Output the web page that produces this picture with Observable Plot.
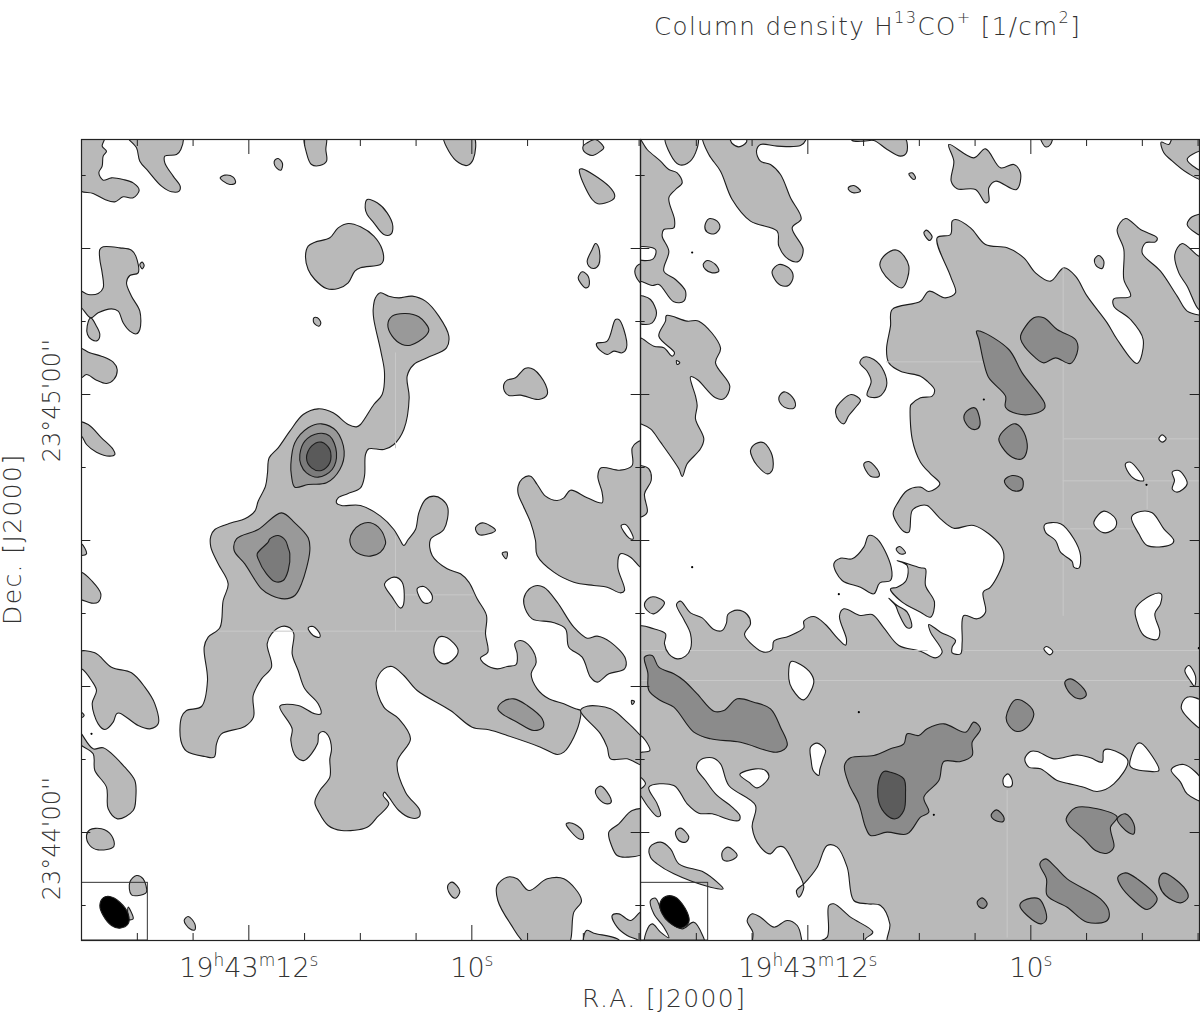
<!DOCTYPE html>
<html><head><meta charset="utf-8">
<script src="https://cdn.jsdelivr.net/npm/d3@7"></script>
<script src="https://cdn.jsdelivr.net/npm/@observablehq/plot@0.6"></script>
<style>
html,body{margin:0;padding:0;background:#fff;width:1200px;height:1017px;overflow:hidden}
#wrap{position:relative;width:1200px;height:1017px}
.t{position:absolute;font-family:"DejaVu Sans";font-weight:200;color:#333;white-space:pre;line-height:1;letter-spacing:1.4px}
.t sup{font-size:.66em;line-height:0;position:relative;top:-.15em;vertical-align:super}
svg text{font-family:"DejaVu Sans";font-weight:200;fill:#333}
</style></head><body><div id="wrap"><div id="chart"></div>
<div class="t" id="title" style="left:654px;top:15px;font-size:24.5px">Column density H<sup>13</sup>CO<sup>+</sup> [1/cm<sup>2</sup>]</div>
<div class="t" id="xl" style="left:582px;top:986px;font-size:25px">R.A. [J2000]</div>
<div class="t" id="yl" style="left:0;top:625px;font-size:25px;transform-origin:0 0;transform:rotate(-90deg)">Dec. [J2000]</div>
</div>
<script>
const raTicks=[13,12.5,12,11.5,11,10.5,10,9.5,9,8.5];
const raMajor=[12,10];
const raLabels=["19h43m12s","10s"];
const decTicks=[30,20,10,0,-10,-20,-30,-40,-50,-60,-70];
const decMajor=[20,0,-20,-40,-60];
const decLabelValues=[0,-60];
const decLabels=["23°45'00''","23°44'00''"];

const leftLevel1=[
[-10,-10,70,-10,62,20,75,35,65,50,62,80,52,100,65,122,90,115,125,120,155,130,173,152,155,175,125,172,100,187,70,180,35,162,-10,150],
[138,-10,165,25,175,65,200,95,240,140,270,157,293,155,296,140,275,110,250,70,250,50,285,45,298,30,302,-10],
[416,115,430,107,455,113,462,130,445,135,425,125],
[580,62,590,57,603,72,598,92,585,85,578,72],
[670,-10,675,40,690,75,715,78,735,65,733,30,733,-10],
[1087,-10,1102,35,1132,70,1157,78,1175,60,1176,-10],
[1505,20,1517,10,1542,0,1567,25,1557,35,1532,48,1507,35],
[1494,90,1502,88,1582,140,1600,170,1592,182,1549,193,1532,180,1497,110],
[851,205,857,180,887,190,917,220,934,260,927,285,907,285,877,250,857,225],
[672,350,680,320,700,308,745,295,770,265,800,252,837,262,877,290,902,330,905,365,897,375,837,385,820,395,800,430,770,447,735,447,700,420,680,390],
[175,375,182,368,188,378,182,388],
[-10,452,20,465,50,462,65,445,62,400,55,360,55,330,65,322,115,325,150,332,163,350,170,400,145,408,135,430,150,470,175,515,175,570,165,583,145,575,125,550,110,515,90,508,50,520,28,535,0,505,-10,500],
[28,535,17,560,18,585,30,600,48,603,55,585,45,560],
[-10,625,25,640,60,650,95,668,107,690,97,720,75,732,45,722,15,705,0,715,-10,715],
[-10,848,20,855,60,895,95,930,100,945,85,950,45,938,15,915,0,890,-10,890],
[697,535,708,535,718,550,712,560,697,550],
[388,1190,400,1170,450,1150,490,1138,520,1115,530,1085,552,1040,558,1000,563,955,590,925,625,875,665,825,710,808,755,820,800,855,825,862,837,855,877,795,902,765,909,700,899,640,877,540,875,510,882,475,897,460,922,470,952,475,992,470,1032,485,1072,530,1102,590,1095,625,1037,655,997,675,977,710,983,775,967,870,937,915,907,930,862,928,852,945,849,1010,837,1045,800,1062,770,1075,765,1090,780,1098,837,1098,897,1130,937,1170,955,1200,967,1218,980,1200,1002,1170,1012,1120,1032,1080,1057,1070,1082,1080,1099,1105,1087,1170,1047,1200,1052,1248,1097,1288,1137,1303,1162,1328,1187,1378,1215,1428,1212,1483,1219,1538,1197,1555,1212,1575,1247,1588,1277,1581,1304,1575,1307,1543,1300,1513,1317,1503,1347,1523,1364,1568,1349,1603,1367,1648,1402,1678,1447,1693,1482,1708,1497,1713,1497,1733,1477,1793,1447,1838,1427,1845,1377,1823,1277,1788,1222,1771,1172,1763,1107,1713,1007,1653,967,1608,932,1581,907,1588,884,1628,907,1703,952,1738,987,1798,947,1868,972,1958,1015,2013,1012,2033,987,2035,952,2013,922,1973,909,1958,905,1968,922,1993,887,2033,857,2063,780,2073,740,2058,712,2018,700,1988,715,1953,745,1913,745,1858,750,1828,740,1788,725,1776,712,1783,708,1813,668,1863,645,1853,628,1803,632,1768,595,1700,650,1698,700,1723,718,1723,710,1693,670,1648,650,1593,632,1543,637,1483,625,1465,600,1461,570,1483,557,1513,570,1583,540,1618,515,1668,516,1733,490,1761,420,1783,405,1813,398,1853,370,1851,315,1835,298,1803,300,1733,315,1713,360,1701,378,1623,368,1523,380,1493,415,1465,425,1383,440,1333,410,1273,388,1223],
[1310,1040,1322,1018,1347,1010,1367,1035,1392,1070,1427,1083,1447,1075,1467,1052,1517,1075,1562,1090,1562,1060,1549,1010,1559,985,1617,992,1652,978,1652,925,1667,908,1690,905,1690,1283,1677,1283,1647,1253,1617,1243,1609,1283,1629,1353,1617,1360,1577,1343,1537,1338,1477,1328,1417,1298,1367,1248,1362,1203,1347,1148,1327,1103,1310,1063],
[1660,395,1672,375,1690,375,1690,435,1672,425],
[1517,365,1532,330,1542,312,1552,325,1552,375,1537,387,1522,380],
[1490,415,1502,397,1520,410,1522,440,1512,445,1497,430],
[1545,612,1577,605,1602,540,1612,540,1627,570,1635,625,1622,640,1597,635,1577,645,1549,625],
[1267,735,1277,722,1302,715,1332,686,1357,690,1392,735,1397,765,1372,780,1317,767,1282,768,1269,755],
[1182,1165,1202,1150,1242,1172,1222,1183,1192,1185],
[1262,1241,1277,1238,1274,1258],
[1327,1393,1332,1363,1357,1340,1387,1343,1427,1388,1477,1463,1517,1496,1547,1490,1587,1508,1632,1558,1629,1588,1582,1603,1547,1628,1527,1613,1502,1553,1462,1523,1452,1468,1412,1448,1352,1438],
[1650,1683,1659,1686,1652,1695],
[1497,1713,1517,1700,1587,1708,1637,1748,1677,1788,1690,1803,1690,1878,1637,1858,1587,1858,1577,1823,1557,1783],
[1542,1953,1557,1940,1577,1958,1589,1988,1577,1993,1552,1978],
[1454,2053,1472,2051,1502,2073,1505,2098,1492,2098],
[1582,2078,1612,2053,1652,2013,1690,2013,1690,2138,1637,2153,1607,2148,1590,2118],
[1099,2238,1112,2228,1135,2255,1122,2276,1105,2263],
[1247,2238,1277,2213,1307,2218,1342,2253,1397,2218,1447,2218,1500,2283,1477,2318,1457,2420,1342,2420,1287,2353,1249,2283],
[1592,2328,1612,2323,1647,2343,1677,2318,1690,2318,1690,2420,1672,2403,1637,2388,1607,2363],
[1509,2420,1515,2373,1537,2381,1607,2398,1627,2420],
[-10,1213,0,1213,15,1243,0,1248,-10,1245],
[-10,1298,0,1298,30,1323,58,1363,50,1388,30,1391,0,1381,-10,1381],
[-10,1538,40,1540,90,1583,150,1600,190,1643,220,1693,230,1753,205,1768,170,1758,115,1721,105,1723,95,1748,70,1770,50,1753,32,1693,45,1653,30,1623,0,1588,-10,1588],
[-10,1713,0,1718,8,1728,0,1735,-10,1735],
[-10,1770,0,1783,35,1828,65,1825,130,1883,160,1923,163,1973,155,2013,108,2038,80,2008,75,1943,40,1893,35,1843,0,1818,-10,1808],
[15,2088,25,2071,60,2068,90,2088,97,2121,50,2131,25,2118],
[145,2228,165,2208,185,2218,195,2258,185,2265,150,2266],
[308,2343,320,2331,340,2353,340,2371,325,2368],
[140,2303,155,2338,142,2340]
];
const leftSeams=[[942,640,942,925],[942,1190,942,1475],[410,1475,1207,1475],[967,1366,1175,1366]];
const leftHoles=[
[680,1465,695,1461,715,1483,715,1493,695,1488],
[909,1333,937,1313,962,1328,965,1398,957,1406,932,1373],
[1007,1348,1027,1341,1052,1368,1047,1388,1027,1390],
[1057,1528,1072,1493,1097,1495,1130,1533,1112,1563,1087,1573,1065,1558],
[1619,1158,1632,1155,1650,1180,1655,1198,1642,1195]
];
const leftLevel2=[
[628,975,640,910,680,865,720,853,765,875,788,935,775,990,735,1030,680,1035,640,1043,630,1010],
[465,1198,530,1170,600,1120,640,1150,680,1195,685,1233,660,1333,640,1368,610,1378,570,1368,540,1348,490,1273,458,1233],
[805,1200,815,1175,837,1155,867,1150,897,1170,912,1205,912,1213,897,1238,867,1250,837,1245,815,1230],
[919,555,932,530,972,522,1012,532,1042,570,1032,590,987,617,962,615,932,590],
[1249,1708,1262,1688,1297,1678,1337,1698,1382,1738,1385,1763,1357,1773,1307,1748,1262,1723]
];
const leftLevel3=[
[655,945,670,905,710,882,745,890,765,940,752,990,710,1013,675,1000,658,975],
[565,1198,590,1188,612,1203,620,1225,625,1243,620,1293,605,1323,580,1326,555,1303,530,1258,527,1243,560,1208]
];
const leftLevel4=[[675,955,690,920,720,908,745,930,745,970,720,993,690,985]];
const leftBeam=[55,2298,65,2275,85,2271,115,2288,140,2323,140,2353,115,2366,90,2358,65,2328];
const leftDots=[[30,1783]];
const leftBox=[0,199,2230,2403];

const rightMain=[-10,1463,40,1468,75,1483,72,1513,85,1543,110,1558,135,1550,150,1528,150,1483,130,1440,108,1395,120,1385,150,1420,185,1435,220,1470,245,1473,258,1450,262,1425,290,1412,320,1425,330,1453,312,1485,340,1520,370,1538,395,1530,400,1505,445,1490,490,1465,490,1445,520,1431,555,1455,590,1495,615,1517,618,1500,597,1430,610,1408,660,1428,695,1425,730,1465,775,1518,840,1535,885,1555,905,1538,870,1478,865,1455,900,1478,945,1503,935,1523,935,1540,960,1543,965,1508,970,1428,1010,1438,1035,1418,1028,1358,1050,1343,1090,1258,1080,1218,1000,1158,940,1166,900,1138,860,1098,840,1098,815,1113,805,1178,790,1176,758,1123,770,1093,800,1053,840,1043,865,1056,898,1033,870,1003,840,968,815,898,810,798,812,795,840,775,875,770,882,750,860,725,840,710,780,695,745,670,738,630,750,560,755,510,840,485,865,455,915,475,945,460,930,410,890,295,930,285,935,245,945,240,990,265,1035,315,1100,325,1150,355,1185,400,1230,425,1270,385,1305,410,1340,470,1400,550,1430,600,1490,672,1508,600,1470,540,1420,500,1420,478,1470,470,1450,420,1450,330,1430,270,1455,237,1500,270,1550,295,1545,307,1515,310,1505,340,1560,395,1610,470,1640,515,1680,527,1690,527,1690,2420,745,2420,748,2353,720,2298,680,2293,640,2283,620,2183,590,2123,560,2118,530,2183,490,2233,468,2253,475,2273,490,2243,465,2183,430,2123,410,2123,390,2143,360,2123,335,2063,345,1998,265,1938,240,1873,215,1855,180,1861,168,1885,195,1923,225,1963,275,2003,298,2028,295,2043,265,2040,215,2023,175,2021,140,1993,100,1938,25,1943,50,1993,60,2028,50,2031,20,1998,0,1968,-10,1960];
const rightSeams=[[1268,385,1268,1428],[1100,1953,1100,2393],[1520,1038,1520,1108],[0,667,225,667],[738,667,1050,667],[150,1533,350,1533],[400,1533,860,1533],[972,1533,1690,1533],[0,1533,72,1533],[0,1623,1670,1623],[1270,898,1690,898],[1268,1024,1690,1024],[1290,1168,1480,1168]];
const rightHoles=[
[445,1618,452,1566,480,1575,512,1603,520,1628,490,1681,455,1648],
[510,1823,530,1811,555,1833,548,1858,538,1890,535,1908,518,1893,512,1863],
[298,1905,345,1888,375,1893,385,1913,350,1945,325,1928],
[-10,1788,0,1788,15,1803,28,1833,5,1838,-10,1838],
[-10,1913,0,1913,15,1933,0,1948,-10,1948],
[1088,1918,1102,1903,1115,1923,1112,1941,1092,1940],
[1153,1858,1170,1836,1190,1836,1240,1858,1310,1846,1350,1855,1385,1868,1390,1833,1410,1830,1462,1863,1420,1933,1370,1956,1330,1943,1280,1931,1250,1923,1200,1888,1165,1883],
[1468,1878,1490,1813,1502,1811,1555,1893,1520,1895,1480,1888],
[1592,1891,1630,1875,1690,1930,1690,1985,1640,1963,1620,1928],
[1622,1703,1640,1673,1690,1690,1690,1770,1640,1733],
[1633,1593,1645,1578,1665,1610,1662,1640,1650,1625],
[1555,898,1565,886,1577,898,1565,908],
[1455,973,1470,968,1510,1023,1485,1020,1460,993],
[1595,998,1615,993,1640,1033,1610,1058,1595,1048,1602,1023],
[1360,1148,1390,1115,1425,1138,1425,1163,1395,1180,1370,1168],
[1473,1133,1500,1116,1535,1120,1570,1168,1600,1203,1590,1216,1520,1218,1495,1183],
[1213,1155,1260,1153,1300,1198,1320,1248,1315,1286,1300,1283,1295,1266,1260,1238,1245,1203,1215,1178],
[1485,1408,1530,1368,1562,1363,1560,1393,1543,1423,1558,1478,1550,1500,1510,1488,1490,1448],
[1210,1528,1218,1521,1237,1536,1228,1546]
];
const rightLevel1=[
[-10,-10,20,30,60,65,85,90,110,100,125,130,105,150,85,175,102,240,100,265,70,270,65,290,85,335,70,395,105,420,135,455,130,485,100,487,55,435,35,438,0,425,-10,425],
[-10,470,10,470,30,480,48,520,35,550,15,555,-10,548],
[75,-10,90,45,115,75,140,72,165,40,170,-10],
[187,-10,205,45,240,95,275,180,330,245,410,275,415,320,445,360,475,365,488,330,455,265,482,238,450,175,420,105,390,75,360,65,348,35,360,15,410,20,480,18,495,3,495,-10,320,-10,318,8,295,22,275,12,262,-10],
[630,-10,635,3,670,5,700,3,740,30,780,50,798,40,790,-10],
[193,260,205,238,230,245,238,265,222,283,200,278],
[188,375,200,363,225,375,235,395,215,400,195,390],
[395,395,415,375,445,385,458,410,445,437,420,437,400,415],
[623,145,640,138,660,155,640,160,628,155],
[805,103,815,100,825,115,820,120],
[718,375,735,345,770,332,805,380,785,445,750,425,725,395],
[658,670,670,653,700,660,730,695,738,740,715,772,680,768,692,725,680,695],
[415,775,430,757,455,772,465,798,460,806,440,806,425,798],
[590,800,632,765,660,782,650,798,625,828,610,853,595,843,585,818],
[78,528,140,545,175,545,240,625,225,670,268,740,250,778,225,775,170,720,150,712,165,770,170,798,165,838,190,898,180,928,140,973,125,1011,115,988,60,908,30,868,0,853,-10,850,-10,595,0,595,40,620,70,625,95,650,102,640,55,590,75,545],
[-10,978,0,978,25,988,32,1023,12,1063,20,1118,0,1133,-10,1133],
[330,933,345,913,370,910,395,948,395,993,380,1003,350,978,335,953],
[670,973,685,966,715,998,715,1011,690,1010],
[767,1228,778,1221,795,1241,778,1243],
[580,1273,600,1256,635,1258,670,1223,685,1188,710,1198,752,1283,750,1323,718,1330,700,1363,660,1343,605,1323],
[770,1263,800,1278,797,1323,770,1343,750,1348,785,1388,840,1418,870,1433,882,1388,855,1338,855,1288,840,1285],
[745,1376,770,1398,800,1418,813,1463,800,1465,775,1423,765,1398],
[12,1393,30,1373,55,1376,72,1390,40,1423,20,1413],
[925,15,1000,55,1035,28,1080,85,1120,75,1140,100,1128,150,1065,125,1045,145,1045,185,1035,190,1005,150,950,148,932,125,940,65],
[1200,-10,1235,-10,1230,15,1215,22],
[850,280,858,272,875,292,867,303],
[1362,360,1375,348,1390,365,1385,387,1368,380],
[1562,8,1585,15,1600,-10,1690,-10,1690,120,1640,100,1590,60,1570,40],
[1640,255,1655,232,1690,226,1690,290,1665,280],
[1625,312,1675,350,1690,350,1690,510,1675,510,1640,440,1615,400,1603,345],
[105,2078,120,2066,145,2093,135,2108,115,2103],
[245,2138,262,2123,290,2148,270,2163,248,2161],
[28,2123,60,2108,90,2128,115,2173,190,2198,230,2228,248,2248,210,2243,100,2203,50,2173,30,2153],
[30,2283,45,2276,65,2320,85,2345,125,2368,160,2348,185,2385,192,2420,15,2420,17,2378,35,2353,60,2378,85,2395,70,2363,40,2323],
[320,2343,335,2323,360,2333,400,2363,440,2343,470,2358,482,2393,482,2420,340,2420,337,2378],
[525,2410,560,2393,565,2298,580,2293,630,2333,697,2378,675,2398,670,2420,525,2420]
];
const rightHoles2=[
[-10,325,45,330,38,358,-10,358],
[1640,60,1655,45,1690,35,1690,95,1665,85],
[108,663,118,670,110,675]
];
const rightLevel2=[
[1140,590,1180,535,1210,535,1250,570,1305,600,1312,630,1290,672,1245,655,1210,670,1185,655,1145,610],
[1008,575,1020,575,1105,630,1145,700,1212,790,1212,806,1180,823,1130,823,1095,803,1095,770,1045,715,1030,670,1015,600],
[970,833,985,810,1005,806,1018,858,1005,870,985,863],
[1075,898,1095,868,1125,853,1150,878,1160,928,1145,958,1115,953,1085,923],
[1092,1023,1115,1008,1145,1018,1145,1048,1125,1055,1105,1046],
[25,1653,60,1683,100,1703,160,1778,210,1798,300,1808,410,1838,440,1818,420,1763,390,1708,340,1688,290,1678,250,1713,220,1715,170,1663,130,1623,100,1603,55,1583,35,1548,12,1553,22,1600],
[612,1878,630,1855,700,1848,750,1828,790,1813,800,1783,835,1788,860,1768,910,1753,975,1778,1000,1748,1020,1768,995,1808,995,1848,960,1866,910,1866,895,1923,850,1973,865,2018,840,2033,800,2083,740,2078,690,2088,675,2063,655,1993,625,1933],
[1097,1733,1125,1681,1160,1693,1180,1723,1160,1763,1130,1776,1105,1758],
[1273,1628,1290,1618,1330,1648,1337,1668,1320,1678,1290,1663],
[1052,2028,1068,2011,1090,2033,1088,2046,1065,2043],
[1277,2038,1305,2005,1370,2008,1430,2033,1410,2063,1420,2123,1400,2141,1365,2133,1330,2098,1285,2058],
[1430,2038,1455,2023,1480,2053,1480,2083,1465,2080],
[1198,2173,1215,2158,1245,2183,1280,2218,1380,2278,1405,2313,1400,2343,1340,2348,1280,2303,1220,2268,1218,2218],
[1138,2298,1150,2283,1195,2278,1218,2338,1202,2353,1160,2328],
[1010,2288,1025,2275,1040,2293,1030,2306,1015,2301],
[1432,2213,1455,2200,1490,2218,1550,2278,1520,2310,1480,2283,1440,2238],
[1557,2213,1570,2201,1630,2243,1643,2273,1620,2290,1575,2268,1557,2238]
];
const rightLevel3=[[715,1923,730,1896,750,1898,790,1918,795,1963,790,2013,765,2038,740,2028,715,1988]];
const rightBeam=[58,2293,75,2271,105,2273,140,2318,145,2348,120,2366,85,2348,65,2323];
const rightDots=[[155,339],[155,1283],[595,1364],[655,1718],[880,2026],[1030,780],[1518,1036],[1675,1526]];
const rightBox=[0,203,2230,2403];

const fills={l1:"#b9b9b9",left2:"#999999",left3:"#7b7b7b",left4:"#5a5a5a",right2:"#8b8b8b",right3:"#5c5c5c",white:"#ffffff",beam:"#000000"};
const ink="#1c1c1c",seam="#c8c8c8";

// cell grid -> sky coordinates
const toRA=u=>12-(u-502)/334.5, toDec=v=>(765-v)/21.9;
const raDomain=[toRA(0),toRA(1677)], decTop=toDec(0), decBottom=toDec(2403);
const rows=(flat,panel)=>{const r=[];for(let i=0;i<flat.length;i+=2)r.push({ra:toRA(flat[i]),dec:toDec(flat[i+1]),panel});return r;};
const shape=(flat,panel,fill)=>Plot.line(rows(flat,panel),{x:"ra",y:"dec",fx:"panel",fill,stroke:ink,strokeWidth:1.1,curve:"catmull-rom-closed",clip:true});
const seamLine=(flat,panel)=>Plot.line(rows(flat,panel),{x:"ra",y:"dec",fx:"panel",stroke:seam,strokeWidth:1,clip:true});
const group=(list,panel,fill)=>list.map(s=>shape(s,panel,fill));
const dots=(list,panel)=>Plot.dot(list.map(d=>({ra:toRA(d[0]),dec:toDec(d[1]),panel})),{x:"ra",y:"dec",fx:"panel",r:1.1,fill:"#000",clip:true});
const box=(b,panel)=>Plot.rect([{x1:toRA(b[0]),x2:toRA(b[1]),y1:toDec(b[2]),y2:toDec(b[3]),panel}],{x1:"x1",x2:"x2",y1:"y1",y2:"y2",fx:"panel",fill:"none",stroke:"#333",strokeWidth:1,clip:true});

// tick lengths in sky units (7.3 px per arcsec, 167.25 px per second)
const dxShort=7/167.25,dxLong=14/167.25,dyShort=7/7.3,dyLong=15/7.3;
const yLen=d=>decMajor.includes(d)?dxLong:dxShort;
const xLen=d=>raMajor.includes(d)?dyLong:dyShort;
const tickOpts={stroke:"#222",strokeWidth:1};
const ticks=[
 Plot.ruleX(raTicks,{x:d=>d,y1:decTop,y2:d=>decTop-xLen(d),...tickOpts}),
 Plot.ruleX(raTicks,{x:d=>d,y1:decBottom,y2:d=>decBottom+xLen(d),...tickOpts}),
 Plot.ruleY(decTicks,{y:d=>d,x1:raDomain[0],x2:d=>raDomain[0]-yLen(d),...tickOpts}),
 Plot.ruleY(decTicks,{y:d=>d,x1:raDomain[1],x2:d=>raDomain[1]+yLen(d),...tickOpts})
];

const plot=Plot.plot({
 width:1200,height:1017,marginLeft:81,marginRight:1,marginTop:139,marginBottom:77,
 style:{background:"#fff"},
 fx:{domain:["L","R"],padding:0,axis:null,label:null},
 x:{domain:raDomain,axis:null},
 y:{domain:[decBottom,decTop],axis:null},
 marks:[
  ...group(leftLevel1,"L",fills.l1),
  ...leftSeams.map(s=>seamLine(s,"L")),
  ...group(leftHoles,"L",fills.white),
  ...group(leftLevel2,"L",fills.left2),
  ...group(leftLevel3,"L",fills.left3),
  ...group(leftLevel4,"L",fills.left4),
  shape(leftBeam,"L",fills.beam),
  dots(leftDots,"L"),
  box(leftBox,"L"),
  shape(rightMain,"R",fills.l1),
  ...rightSeams.map(s=>seamLine(s,"R")),
  ...group(rightHoles,"R",fills.white),
  ...group(rightLevel1,"R",fills.l1),
  ...group(rightHoles2,"R",fills.white),
  ...group(rightLevel2,"R",fills.right2),
  ...group(rightLevel3,"R",fills.right3),
  shape(rightBeam,"R",fills.beam),
  dots(rightDots,"R"),
  box(rightBox,"R"),
  ...ticks,
  Plot.frame({stroke:"#222",strokeWidth:1.2}),
  Plot.text(raLabels,{x:(d,i)=>raMajor[i],text:d=>d,frameAnchor:"bottom",lineAnchor:"middle",dy:28,fontSize:27}),
  Plot.text(decLabels,{y:(d,i)=>decLabelValues[i],text:d=>d,fx:()=>"L",frameAnchor:"left",textAnchor:"middle",lineAnchor:"middle",dx:-29,dy:6,rotate:-90,fontSize:24})
 ]
});
document.getElementById("chart").appendChild(plot);

// raise the h, m, s unit letters of the RA labels as superscripts, keeping the text real
d3.select(plot).selectAll("text").each(function(){
 const s=this.textContent;
 if(!raLabels.includes(s))return;
 this.textContent="";
 const el=d3.select(this);
 let up=false;
 for(const part of s.match(/\d+|[a-z]/g)){
  const letter=/[a-z]/.test(part);
  const t=el.append("tspan").text(part).attr("font-size",letter?17:27);
  if(letter&&!up){t.attr("dy",-11);up=true;}
  else if(!letter&&up){t.attr("dy",11);up=false;}
 }
});
</script></body></html>
